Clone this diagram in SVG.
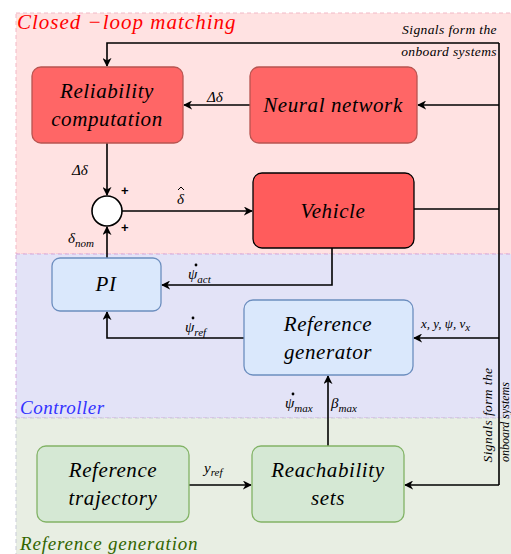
<svg xmlns="http://www.w3.org/2000/svg" width="511" height="554" viewBox="0 0 511 554">
<style>
text{font-family:"Times New Roman",Times,"Liberation Serif",serif;font-style:italic;fill:#000}
.nl{font-size:21px;text-anchor:middle;letter-spacing:0.6px}
.lb{font-size:15px}
.sub{font-size:11px}
.red{fill:#ff6666;stroke:#b85450;stroke-width:1.3}
.veh{fill:#ff5c5c;stroke:#000;stroke-width:1.3}
.blue{fill:#dae8fc;stroke:#6c8ebf;stroke-width:1.3}
.green{fill:#d5e8d4;stroke:#82b366;stroke-width:1.3}
.c{fill:none;stroke:#000;stroke-width:1.6}
.a{marker-end:url(#ar)}
.sig{font-size:13.5px;letter-spacing:0.4px}
</style>
<defs>
<marker id="ar" viewBox="0 0 10 10" refX="9" refY="5" markerWidth="9" markerHeight="9" markerUnits="userSpaceOnUse" orient="auto">
<path d="M0,0 L10,5 L0,10 L3,5 z" fill="#000"/>
</marker>
</defs>
<rect width="511" height="554" fill="#fff"/>
<g id="regions">
<rect x="16" y="13" width="500" height="241" fill="#ffe2e2" stroke="#f2b8c6" stroke-dasharray="4 3"/>
<rect x="16" y="254" width="500" height="164" fill="#e3e3f7" stroke="#d4a8dc" stroke-dasharray="4 3"/>
<rect x="16" y="418" width="500" height="140" fill="#e8eee3" stroke="#c8cbd8" stroke-dasharray="4 3"/>
<text x="17" y="29" style="font-size:21px;letter-spacing:1px;fill:#ff0000">Closed  −loop matching</text>
<text x="20" y="414" style="font-size:19px;letter-spacing:0.5px;fill:#3333ff">Controller</text>
<text x="20" y="550" style="font-size:19px;letter-spacing:0.8px;fill:#336600">Reference generation</text>
</g>
<g id="connectors">
<path class="c a" d="M499,43 L107,43 L107,66"/>
<path class="c" d="M499,43 L499,485"/>
<path class="c a" d="M499,105 L418,105"/>
<path class="c a" d="M250,105 L184,105"/>
<path class="c a" d="M107,143 L107,195"/>
<path class="c a" d="M122,211 L252,211"/>
<path class="c" d="M414,209 L499,209"/>
<path class="c a" d="M332,248 L332,285 L162,285"/>
<path class="c a" d="M107,258 L107,227"/>
<path class="c a" d="M244,338 L107,338 L107,312"/>
<path class="c a" d="M499,338 L414,338"/>
<path class="c a" d="M328,446 L328,376"/>
<path class="c a" d="M189,485 L251,485"/>
<path class="c a" d="M499,485 L405,485"/>
<text x="207" y="102" class="lb">Δδ</text>
<text x="72" y="175" class="lb">Δδ</text>
<text x="177" y="204" class="lb">δ</text>
<path d="M178,190 L181,187 L184,190" fill="none" stroke="#000" stroke-width="1"/>
<text x="121" y="195" style="font-size:13px;font-style:normal;font-family:'Liberation Sans',sans-serif;font-weight:bold">+</text>
<text x="121" y="232" style="font-size:13px;font-style:normal;font-family:'Liberation Sans',sans-serif;font-weight:bold">+</text>
<text x="68" y="243" class="lb">δ<tspan class="sub" dy="4">nom</tspan></text>
<text x="188" y="279" class="lb">ψ<tspan class="sub" dy="4">act</tspan></text>
<circle cx="196" cy="265" r="1.4"/>
<text x="185" y="332" class="lb">ψ<tspan class="sub" dy="4">ref</tspan></text>
<circle cx="193" cy="318" r="1.4"/>
<text x="421" y="328" style="font-size:13px">x, y, ψ, v<tspan class="sub" dy="3">x</tspan></text>
<text x="285" y="408" class="lb">ψ<tspan class="sub" dy="4">max</tspan></text>
<circle cx="293" cy="394" r="1.4"/>
<text x="331" y="408" class="lb">β<tspan class="sub" dy="4">max</tspan></text>
<text x="204" y="473" class="lb">y<tspan class="sub" dy="3">ref</tspan></text>
<text x="497" y="34" class="sig" style="text-anchor:end">Signals form the</text>
<text x="497" y="56" class="sig" style="text-anchor:end">onboard systems</text>
<text transform="translate(492,415) rotate(-90)" class="sig" style="text-anchor:middle">Signals form the</text>
<text transform="translate(509,422) rotate(-90)" style="font-size:12px;text-anchor:middle">onboard systems</text>
</g>
<g id="reliability">
<rect x="32" y="67" width="151" height="76" rx="9" class="red"/>
<text x="107" y="98" class="nl">Reliability</text>
<text x="107" y="126" class="nl">computation</text>
</g>
<g id="neural">
<rect x="250" y="67" width="167" height="76" rx="9" class="red"/>
<text x="333" y="112" class="nl">Neural network</text>
</g>
<g id="sum">
<circle cx="107" cy="211" r="15" fill="#fff" stroke="#000" stroke-width="1.6"/>
</g>
<g id="vehicle">
<rect x="253" y="173" width="161" height="75" rx="9" class="veh"/>
<text x="333" y="218" class="nl">Vehicle</text>
</g>
<g id="pi">
<rect x="52" y="258" width="109" height="53" rx="8" class="blue"/>
<text x="106" y="291" class="nl">PI</text>
</g>
<g id="refgen">
<rect x="244" y="300" width="169" height="75" rx="9" class="blue"/>
<text x="328" y="331" class="nl">Reference</text>
<text x="328" y="359" class="nl">generator</text>
</g>
<g id="reftraj">
<rect x="37" y="446" width="152" height="76" rx="9" class="green"/>
<text x="113" y="477" class="nl">Reference</text>
<text x="113" y="505" class="nl">trajectory</text>
</g>
<g id="reach">
<rect x="252" y="446" width="152" height="76" rx="9" class="green"/>
<text x="328" y="477" class="nl">Reachability</text>
<text x="328" y="505" class="nl">sets</text>
</g>
</svg>
